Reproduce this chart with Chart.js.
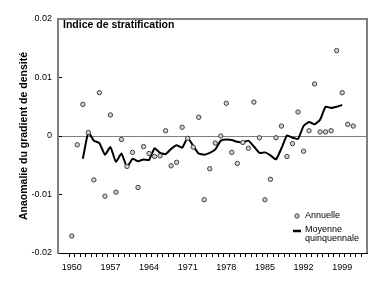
<!DOCTYPE html>
<html>
<head>
<meta charset="utf-8">
<script src="https://cdn.jsdelivr.net/npm/chart.js@4.4.1/dist/chart.umd.min.js"></script>
<style>
html, body { margin: 0; padding: 0; background: #fff; }
#cadre { width: 381px; height: 283px; }
</style>
</head>
<body>
<div id="cadre"><canvas id="graphique" width="381" height="283"></canvas></div>
<script>
// Données
const annees = [1950, 1951, 1952, 1953, 1954, 1955, 1956, 1957, 1958, 1959,
                1960, 1961, 1962, 1963, 1964, 1965, 1966, 1967, 1968, 1969,
                1970, 1971, 1972, 1973, 1974, 1975, 1976, 1977, 1978, 1979,
                1980, 1981, 1982, 1983, 1984, 1985, 1986, 1987, 1988, 1989,
                1990, 1991, 1992, 1993, 1994, 1995, 1996, 1997, 1998, 1999,
                2000, 2001];
const annuelle = [-0.0171, -0.0015, 0.0054, 0.0006, -0.0075, 0.0074, -0.0103, 0.0036, -0.0096, -0.0006,
                  -0.0052, -0.0028, -0.0088, -0.0018, -0.0030, -0.0035, -0.0034, 0.0009, -0.0051, -0.0045,
                  0.0015, -0.0004, -0.0019, 0.0032, -0.0109, -0.0056, -0.0012, 0.0000, 0.0056, -0.0028,
                  -0.0047, -0.0011, -0.0021, 0.0058, -0.0003, -0.0109, -0.0074, -0.0003, 0.0017, -0.0035,
                  -0.0013, 0.0041, -0.0026, 0.0009, 0.0089, 0.0007, 0.0007, 0.0009, 0.0146, 0.0074,
                  0.0020, 0.0017];
const moyenneQuinq = [null, null, -0.0039, 0.0006, -0.0008, -0.0012, -0.0032, -0.0019, -0.0044, -0.0030,
                      -0.0053, -0.0039, -0.0043, -0.0040, -0.0041, -0.0021, -0.0029, -0.0031, -0.0022, -0.0016,
                      -0.0020, -0.0003, -0.0017, -0.0030, -0.0032, -0.0029, -0.0023, -0.0008, -0.0006, -0.0007,
                      -0.0010, -0.0011, -0.0008, -0.0018, -0.0029, -0.0028, -0.0033, -0.0040, -0.0021, 0.0001,
                      -0.0003, -0.0005, 0.0017, 0.0024, 0.0020, 0.0028, 0.0050, 0.0048, 0.0050, 0.0053,
                      null, null];
const graduationsY = [-0.02, -0.01, 0, 0.01, 0.02];
const anneesEtiquettes = [1950, 1957, 1964, 1971, 1978, 1985, 1992, 1999];

const titre = 'Indice de stratification';
const titreAxeY = 'Anaomalie du gradient de densité';
const legendeAnnuelle = 'Annuelle';
const legendeMoyenne = ['Moyenne', 'quinquennale'];

const police = "'Liberation Sans', Arial, sans-serif";
const gris = '#808080';

// Cadre, titre et légende dessinés dans la zone du graphique
const decor = {
    id: 'decor',
    afterDraw(chart) {
        const ctx = chart.ctx;
        const a = chart.chartArea;
        ctx.save();
        ctx.strokeStyle = gris;
        ctx.lineWidth = 2;
        ctx.beginPath();
        ctx.moveTo(a.left, a.top);
        ctx.lineTo(a.right, a.top);
        ctx.lineTo(a.right, a.bottom);
        ctx.stroke();

        ctx.fillStyle = '#000';
        ctx.textBaseline = 'middle';
        ctx.textAlign = 'left';
        ctx.font = 'bold 10.5px ' + police;
        ctx.fillText(titre, a.left + 5, a.top + 6);

        // légende
        ctx.font = '9px ' + police;
        ctx.beginPath();
        ctx.arc(297, 216, 2.2, 0, Math.PI * 2);
        ctx.fillStyle = '#d0d0d0';
        ctx.fill();
        ctx.strokeStyle = '#404040';
        ctx.lineWidth = 1;
        ctx.stroke();
        ctx.fillStyle = '#000';
        ctx.fillText(legendeAnnuelle, 305, 216);

        ctx.beginPath();
        ctx.moveTo(293, 231);
        ctx.lineTo(301, 231);
        ctx.strokeStyle = '#000';
        ctx.lineWidth = 2.5;
        ctx.stroke();
        ctx.fillText(legendeMoyenne[0], 305, 230);
        ctx.fillText(legendeMoyenne[1], 305, 238.5);
        ctx.restore();
    }
};

const ctx = document.getElementById('graphique').getContext('2d');
const graphique = new Chart(ctx, {
    type: 'scatter',
    data: {
        datasets: [
            {
                label: legendeAnnuelle,
                data: annees.map((a, i) => ({ x: a, y: annuelle[i] })),
                pointRadius: 2.2,
                pointBackgroundColor: '#d0d0d0',
                pointBorderColor: '#404040',
                pointBorderWidth: 1,
                showLine: false
            },
            {
                label: legendeMoyenne.join(' '),
                data: annees.map((a, i) => ({ x: a, y: moyenneQuinq[i] })),
                showLine: true,
                borderColor: '#000',
                borderWidth: 2,
                pointRadius: 0,
                tension: 0.15
            }
        ]
    },
    options: {
        responsive: false,
        devicePixelRatio: 1,
        animation: false,
        layout: { padding: { top: 19, right: 14, left: 0, bottom: 0 } },
        plugins: {
            legend: { display: false },
            tooltip: { enabled: false }
        },
        scales: {
            x: {
                type: 'linear',
                min: 1947.5,
                max: 2003.5,
                afterBuildTicks(scale) {
                    const t = [];
                    for (let v = 1949.5; v <= 2002.5; v += 0.5) {
                        if (!Number.isInteger(v) || anneesEtiquettes.includes(v)) t.push({ value: v });
                    }
                    scale.ticks = t;
                },
                afterFit(scale) { scale.height = 30; },
                ticks: {
                    autoSkip: false,
                    maxRotation: 0,
                    padding: 5,
                    color: '#000',
                    font: { family: police, size: 9 },
                    callback: v => anneesEtiquettes.includes(v) ? String(v) : ''
                },
                grid: {
                    drawOnChartArea: false,
                    tickLength: 4,
                    tickColor: c => (c.tick && Number.isInteger(c.tick.value)) ? 'transparent' : '#000'
                },
                border: { color: '#000', width: 1 }
            },
            y: {
                min: -0.02,
                max: 0.02,
                afterBuildTicks(scale) {
                    scale.ticks = graduationsY.map(v => ({ value: v }));
                },
                afterFit(scale) { scale.width = 58; },
                ticks: {
                    padding: 10,
                    color: '#000',
                    font: { family: police, size: 9 },
                    callback: v => v === 0 ? '0' : v.toFixed(2)
                },
                grid: {
                    color: c => (c.tick && c.tick.value === 0) ? gris : 'transparent',
                    tickColor: '#000',
                    tickLength: -4
                },
                border: { color: gris, width: 2 },
                title: {
                    display: true,
                    text: titreAxeY,
                    color: '#000',
                    font: { family: police, size: 10.5, weight: 'bold' },
                    padding: { top: 18, bottom: 0 }
                }
            }
        }
    },
    plugins: [decor]
});
</script>
</body>
</html>
